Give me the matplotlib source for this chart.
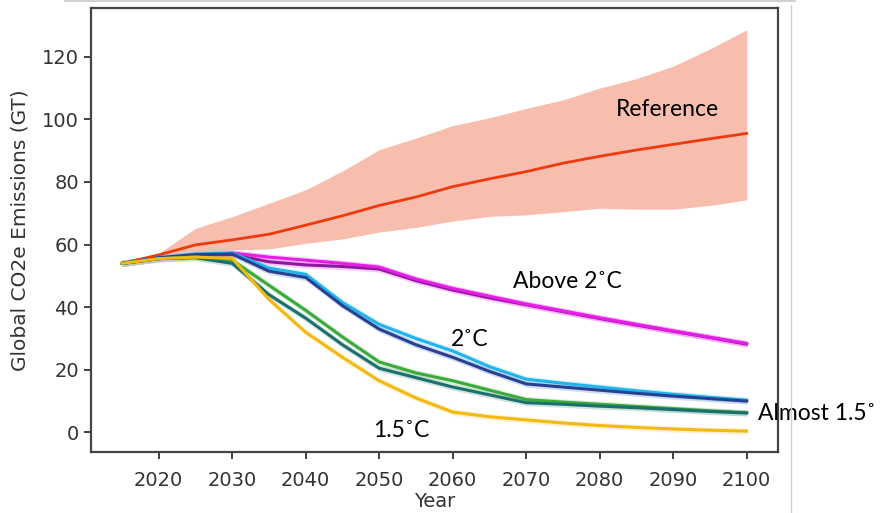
import numpy as np
import matplotlib.pyplot as plt
from matplotlib.lines import Line2D

# Emission pathways, 5-year steps
years = [2015, 2020, 2025, 2030, 2035, 2040, 2045, 2050, 2055,
         2060, 2065, 2070, 2075, 2080, 2085, 2090, 2095, 2100]

ref_mid = [54, 56.7, 59.9, 61.5, 63.3, 66.2, 69.2, 72.5, 75.2,
           78.5, 81, 83.3, 86, 88.2, 90.2, 92, 93.8, 95.5]
ref_high = [54, 57.2, 65.2, 68.9, 73.2, 77.5, 83.5, 90.3, 94,
            98, 100.5, 103.5, 106.2, 110, 113, 117, 122.5, 128.6]
ref_low = [54, 56, 57.2, 58.3, 58.6, 60.4, 61.8, 64, 65.5,
           67.5, 69, 69.5, 70.5, 71.6, 71.3, 71.3, 72.5, 74.3]

above2_a = [54, 55.5, 56.5, 57.3, 56, 55, 54, 52.8, 49,
            46, 43.5, 41, 38.8, 36.6, 34.5, 32.4, 30.4, 28.4]
above2_b = [54, 55.5, 56.5, 56.8, 54.5, 53.5, 53, 52.2, 48.5,
            45.5, 43, 40.8, 38.6, 36.4, 34.3, 32.3, 30.3, 28.2]

two_a = [54, 55.8, 57, 57.3, 52.5, 50.5, 41.5, 34.5, 30,
         26, 21, 17, 15.7, 14.5, 13.3, 12.2, 11.2, 10.3]
two_b = [54, 55.8, 56.8, 57, 51.5, 49.5, 40.5, 33, 28,
         24, 19.5, 15.5, 14.5, 13.5, 12.5, 11.6, 10.8, 10]

almost_a = [54, 55.5, 56, 55, 47, 39, 30.5, 22.5, 19,
            16.5, 13.5, 10.5, 9.7, 9, 8.3, 7.6, 6.9, 6.3]
almost_b = [54, 55.5, 55.8, 54, 44, 36.5, 28, 20.5, 17.5,
            14.5, 12, 9.5, 9, 8.4, 7.9, 7.3, 6.7, 6.2]

one5 = [54, 55.5, 56, 55.6, 42.5, 32, 24, 16.5, 11,
        6.5, 5, 4, 3, 2.2, 1.6, 1.1, 0.7, 0.4]

label_font = ['Lato', 'DejaVu Sans']

fig = plt.figure(figsize=(8.81, 5.13), dpi=100)
ax = fig.add_axes([0.103, 0.118, 0.78, 0.866])

x = np.array(years)
ax.fill_between(x, ref_low, ref_high, color='#f7b6a4', alpha=0.9, lw=0)
ax.plot(x, ref_mid, color='#ee3a0c', lw=2)


def scenario(vals, color, glow):
    v = np.array(vals)
    ax.fill_between(x, v - 1.0, v + 1.0, color=glow, alpha=0.4, lw=0)
    ax.plot(x, v, color=color, lw=2.2)


scenario(above2_b, '#8a1a9a', '#f07af0')
scenario(above2_a, '#e81ce8', '#f07af0')
scenario(two_a, '#1fb4ee', '#8fd8f5')
scenario(two_b, '#27408f', '#8fa8d8')
scenario(almost_a, '#3aab3a', '#9ad49a')
scenario(almost_b, '#1d6f6e', '#8fbcb8')
scenario(one5, '#f4b90f', '#f8dc8a')

ax.set_ylim(-6.4, 135.5)
ax.set_yticks([0, 20, 40, 60, 80, 100, 120])
ax.set_xticks(range(2020, 2101, 10))

ax.set_xlabel('Year', fontsize=14, color='#333333', labelpad=2)
ax.set_ylabel('Global CO2e Emissions (GT)', fontsize=14.5, color='#333333', labelpad=9)
ax.tick_params(labelsize=14, colors='#333333', length=5, width=1.3)
ax.tick_params(axis='x', pad=8)
for s in ax.spines.values():
    s.set_linewidth(1.6)
    s.set_color('#444444')

ax.text(2082.2, 103, 'Reference', fontsize=16.5, family=label_font, va='center')
ax.text(2068.2, 48.3, 'Above 2˚C', fontsize=16.5, family=label_font, va='center')
ax.text(2059.8, 29.8, '2˚C', fontsize=16.5, family=label_font, va='center')
ax.text(2049.2, 0.7, '1.5˚C', fontsize=16.5, family=label_font, va='center')
ax.text(2101.6, 6.2, 'Almost 1.5˚', fontsize=16.5, family=label_font, va='center',
        clip_on=False)

# thin frame lines around the slide area
fig.add_artist(Line2D([65 / 881, 795 / 881], [1 - 1 / 513, 1 - 1 / 513],
                      color='#c8c8c8', lw=1.2))
fig.add_artist(Line2D([791 / 881, 791 / 881], [0, 1 - 5 / 513],
                      color='#d0d0d0', lw=1))

fig.savefig('out.png', dpi=100)
